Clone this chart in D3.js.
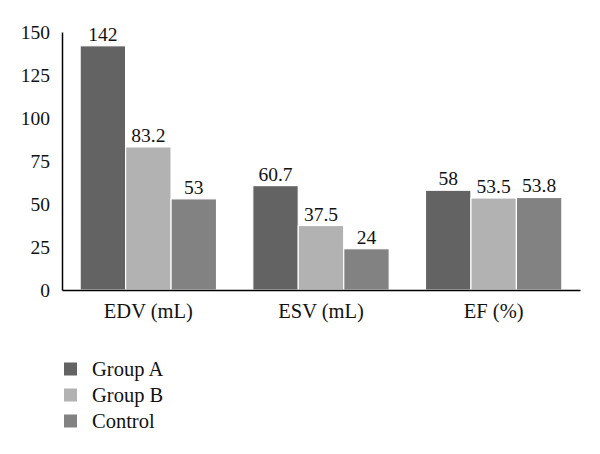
<!DOCTYPE html>
<html>
<head>
<meta charset="utf-8">
<script src="https://cdn.jsdelivr.net/npm/d3@7"></script>
<style>
  body { margin: 0; background: #fff; }
  svg { display: block; }
</style>
</head>
<body>
<svg id="chart" width="600" height="454"></svg>
<script>
const categories = ["EDV (mL)", "ESV (mL)", "EF (%)"];
const seriesNames = ["Group A", "Group B", "Control"];
const groupA = [142, 60.7, 58];
const groupB = [83.2, 37.5, 53.5];
const control = [53, 24, 53.8];
const valueLabels = [["142", "60.7", "58"], ["83.2", "37.5", "53.5"], ["53", "24", "53.8"]];
const yTicks = [0, 25, 50, 75, 100, 125, 150];
const colors = ["#636363", "#b2b2b2", "#828282"];

(function () {
const FONT = '"Liberation Serif"';
const FS_NUM = 19.5, FS_TXT = 20.5;
const series = [groupA, groupB, control];
const svg = d3.select("#chart");
const mLeft = 62, mRight = 580, mTop = 32, mBottom = 290;

const x = d3.scaleBand().domain(categories).range([mLeft, mRight]).paddingInner(0.21).paddingOuter(0.105);
const xs = d3.scaleBand().domain(seriesNames).range([0, x.bandwidth()]);
const y = d3.scaleLinear().domain([0, 150]).range([mBottom, mTop]);

function font(sel, size) {
  sel.attr("font-family", "Liberation Serif")
     .style("font-family", FONT)
     .style("font-size", size + "px")
     .style("fill", "#111");
}

// bars
series.forEach((vals, si) => {
  const g = svg.append("g");
  g.selectAll("rect").data(vals).join("rect")
    .attr("x", (d, i) => x(categories[i]) + xs(seriesNames[si]))
    .attr("y", d => y(d))
    .attr("width", xs.bandwidth())
    .attr("height", d => y(0) - y(d))
    .attr("fill", colors[si])
    .attr("stroke", "#fff")
    .attr("stroke-width", 1.2);
  g.selectAll("text").data(vals).join("text")
    .attr("x", (d, i) => x(categories[i]) + xs(seriesNames[si]) + xs.bandwidth() / 2)
    .attr("y", d => y(d) - 5)
    .attr("text-anchor", "middle")
    .call(font, FS_NUM)
    .text((d, i) => valueLabels[si][i]);
});

// y axis
const yAxis = d3.axisLeft(y).tickValues(yTicks).tickSize(0).tickPadding(12);
const ya = svg.append("g").attr("transform", `translate(${mLeft},0)`).call(yAxis);
ya.attr("font-family", null);
ya.select(".domain").attr("stroke", "#000").attr("stroke-width", 1.5);
ya.selectAll("text").call(font, FS_NUM);

// x axis
const xAxis = d3.axisBottom(x).tickSize(0).tickPadding(13);
const xa = svg.append("g").attr("transform", `translate(0,${mBottom})`).call(xAxis);
xa.attr("font-family", null);
xa.select(".domain").attr("stroke", "#000").attr("stroke-width", 1.5);
xa.selectAll("text").call(font, FS_TXT);

// legend
const leg = svg.append("g").attr("transform", "translate(64,362.5)");
seriesNames.forEach((name, i) => {
  leg.append("rect").attr("x", 0).attr("y", i * 26).attr("width", 13).attr("height", 13).attr("fill", colors[i]);
  leg.append("text").attr("x", 28).attr("y", i * 26 + 13.5)
    .call(font, FS_TXT)
    .text(name);
});
})();
</script>
</body>
</html>
